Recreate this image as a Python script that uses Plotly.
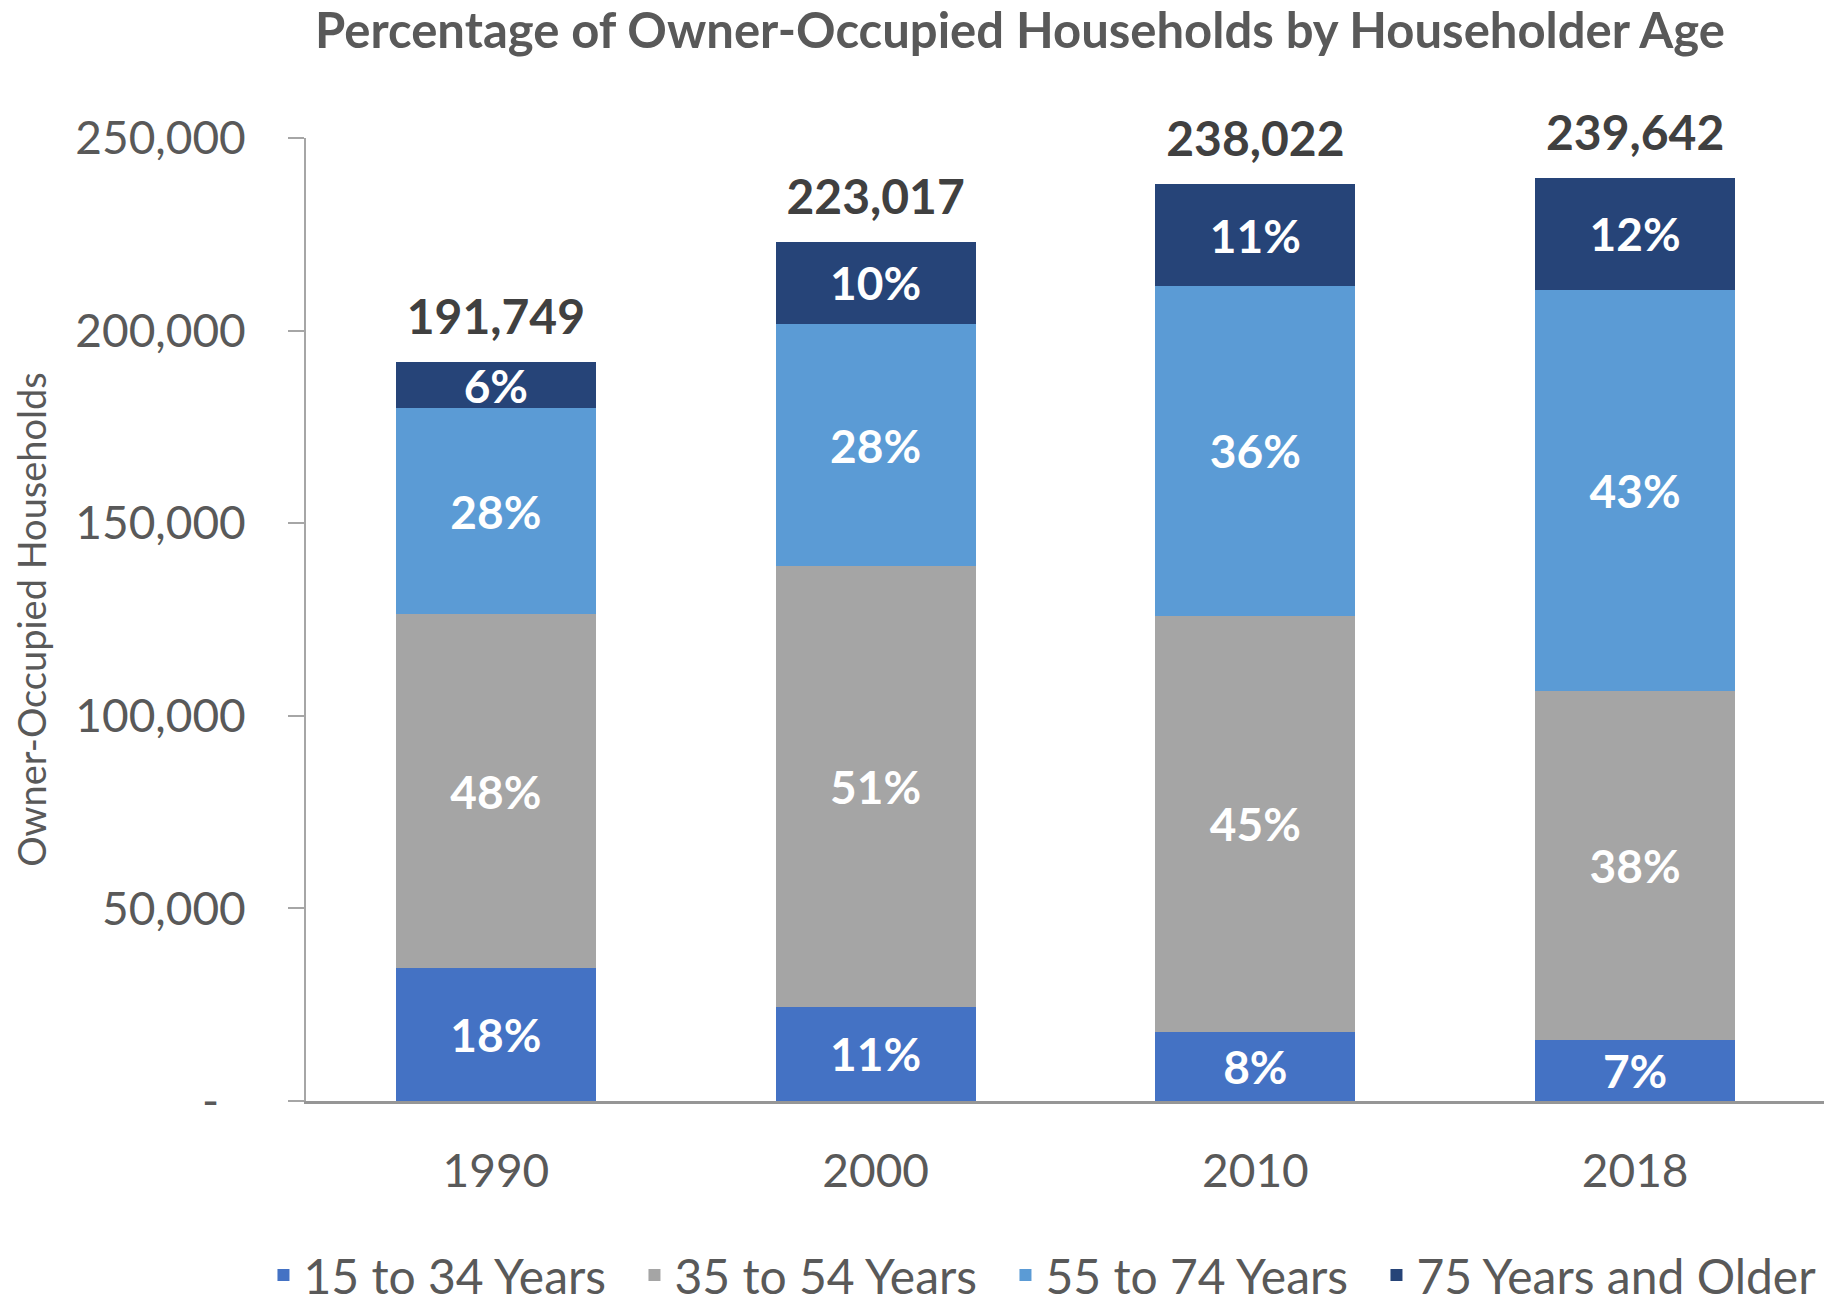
import plotly.graph_objects as go

years = ["1990", "2000", "2010", "2018"]
age_groups = ["15 to 34 Years", "35 to 54 Years", "55 to 74 Years", "75 Years and Older"]
age_15_34 = [34500, 24500, 18000, 15800]
age_35_54 = [91800, 114300, 108000, 90600]
age_55_74 = [53700, 63000, 85500, 104200]
age_75_plus = [11749, 21217, 26522, 29042]
totals = [191749, 223017, 238022, 239642]
y_tickvals = [0, 50000, 100000, 150000, 200000, 250000]
y_ticktext = ["-\u2007", "50,000", "100,000", "150,000", "200,000", "250,000"]

colors = ["#4472C4", "#A5A5A5", "#5B9BD5", "#264478"]
series = [age_15_34, age_35_54, age_55_74, age_75_plus]
legend_widths = [326, 326, 326, 410]

FONT = "Lato"
fig = go.Figure()
for name, vals, col, lw in zip(age_groups, series, colors, legend_widths):
    labels = [f"{round(v / t * 100):.0f}%" for v, t in zip(vals, totals)]
    fig.add_trace(go.Bar(
        x=years, y=vals, name=name, marker=dict(color=col, line=dict(width=0)),
        text=labels, textposition="inside", insidetextanchor="middle",
        constraintext="none", legendwidth=lw,
        textfont=dict(family=FONT, size=46, color="white", weight="bold"),
    ))

fig.add_trace(go.Scatter(
    x=years, y=totals, mode="markers+text", showlegend=False, hoverinfo="skip",
    marker=dict(size=24, opacity=0), cliponaxis=False,
    text=[f"{t:,}" for t in totals], textposition="top center",
    textfont=dict(family=FONT, size=48, color="#404040", weight="bold"),
))

# page has an 8px body margin; figure sized to fit the 1832x1306 window
fig.update_layout(
    barmode="stack", bargap=0.473,
    width=1824, height=1298,
    margin=dict(l=298, r=7, t=130, b=205, autoexpand=False),
    paper_bgcolor="white", plot_bgcolor="white",
    uniformtext=dict(minsize=46, mode="show"),
    title=dict(text="<b>Percentage of Owner-Occupied Households by Householder Age</b>",
               x=1012 / 1824, xanchor="center", xref="container",
               y=1 - 23 / 1298, yanchor="middle", yref="container",
               font=dict(family=FONT, size=49, color="#595959")),
    legend=dict(orientation="h", x=-0.028, xanchor="left", xref="paper",
                y=-0.181, yanchor="middle", yref="paper",
                font=dict(family=FONT, size=48, color="#595959"),
                entrywidth=326, entrywidthmode="pixels", traceorder="normal"),
    showlegend=True,
)
fig.update_xaxes(type="category", showline=True, linecolor="#969696", linewidth=3, ticks="",
                 showgrid=False, automargin=False,
                 tickfont=dict(family=FONT, size=46, color="#595959"),
                 ticklabelstandoff=28)
fig.update_yaxes(range=[0, 250000], tickvals=y_tickvals, ticktext=y_ticktext,
                 showline=True, linecolor="#A6A6A6", linewidth=2,
                 ticks="outside", ticklen=16, tickcolor="#A6A6A6", tickwidth=2,
                 showgrid=False, zeroline=False, automargin=False,
                 tickfont=dict(family=FONT, size=46, color="#595959"),
                 ticklabelstandoff=33,
                 title=dict(text="Owner-Occupied Households", standoff=20,
                            font=dict(family=FONT, size=38, color="#595959")))

fig.write_html("out.html")
